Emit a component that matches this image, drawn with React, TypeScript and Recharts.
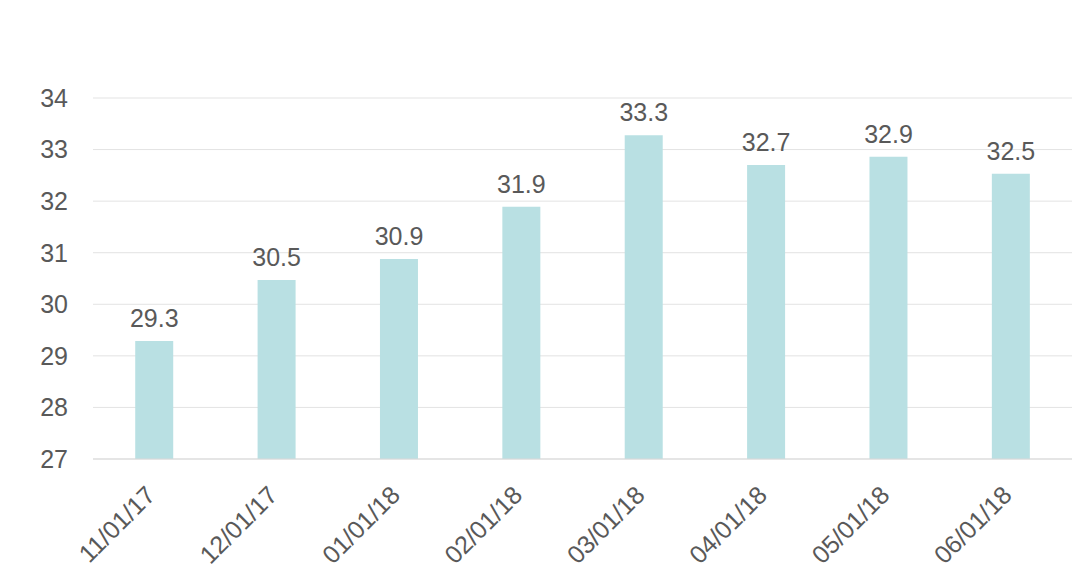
import { BarChart, Bar, XAxis, YAxis, CartesianGrid, LabelList } from "recharts";

const dates = ["11/01/17", "12/01/17", "01/01/18", "02/01/18", "03/01/18", "04/01/18", "05/01/18", "06/01/18"];
const values = [29.29, 30.47, 30.88, 31.89, 33.28, 32.7, 32.86, 32.53];
const yTicks = [27, 28, 29, 30, 31, 32, 33, 34];

const data = dates.map((date, i) => ({ date, value: values[i] }));

const TEXT = "#595959";
const FONT = "'Liberation Sans', Arial, sans-serif";

function DateTick({ x, y, payload }: any) {
  return (
    <g transform={`translate(${x - 10},${y + 17})`}>
      <text
        x={0}
        y={0}
        dy="0.71em"
        textAnchor="end"
        transform="rotate(-45)"
        fill={TEXT}
        fontSize={25}
        fontFamily={FONT}
      >
        {payload.value}
      </text>
    </g>
  );
}

export default function App() {
  return (
    <div style={{ position: "absolute", left: 0, top: 0, width: 1080, height: 582, background: "#fff" }}>
      <BarChart
        width={1080}
        height={582}
        data={data}
        margin={{ top: 98, right: 8, bottom: 0, left: 0 }}
        barCategoryGap="34.5%"
      >
        <CartesianGrid vertical={false} stroke="#e3e3e3" strokeWidth={1} />
        <XAxis
          dataKey="date"
          height={123}
          interval={0}
          axisLine={{ stroke: "#d9d9d9" }}
          tickLine={false}
          tick={<DateTick />}
        />
        <YAxis
          width={93}
          domain={[27, 34]}
          ticks={yTicks}
          axisLine={false}
          tickLine={false}
          tickMargin={19}
          tick={{ fill: TEXT, fontSize: 25, fontFamily: FONT }}
        />
        <Bar dataKey="value" fill="#b9e0e3" isAnimationActive={false}>
          <LabelList
            dataKey="value"
            position="top"
            offset={14}
            formatter={(v: any) => Number(v).toFixed(1)}
            style={{ fill: TEXT, fontSize: 25, fontFamily: FONT }}
          />
        </Bar>
      </BarChart>
    </div>
  );
}
